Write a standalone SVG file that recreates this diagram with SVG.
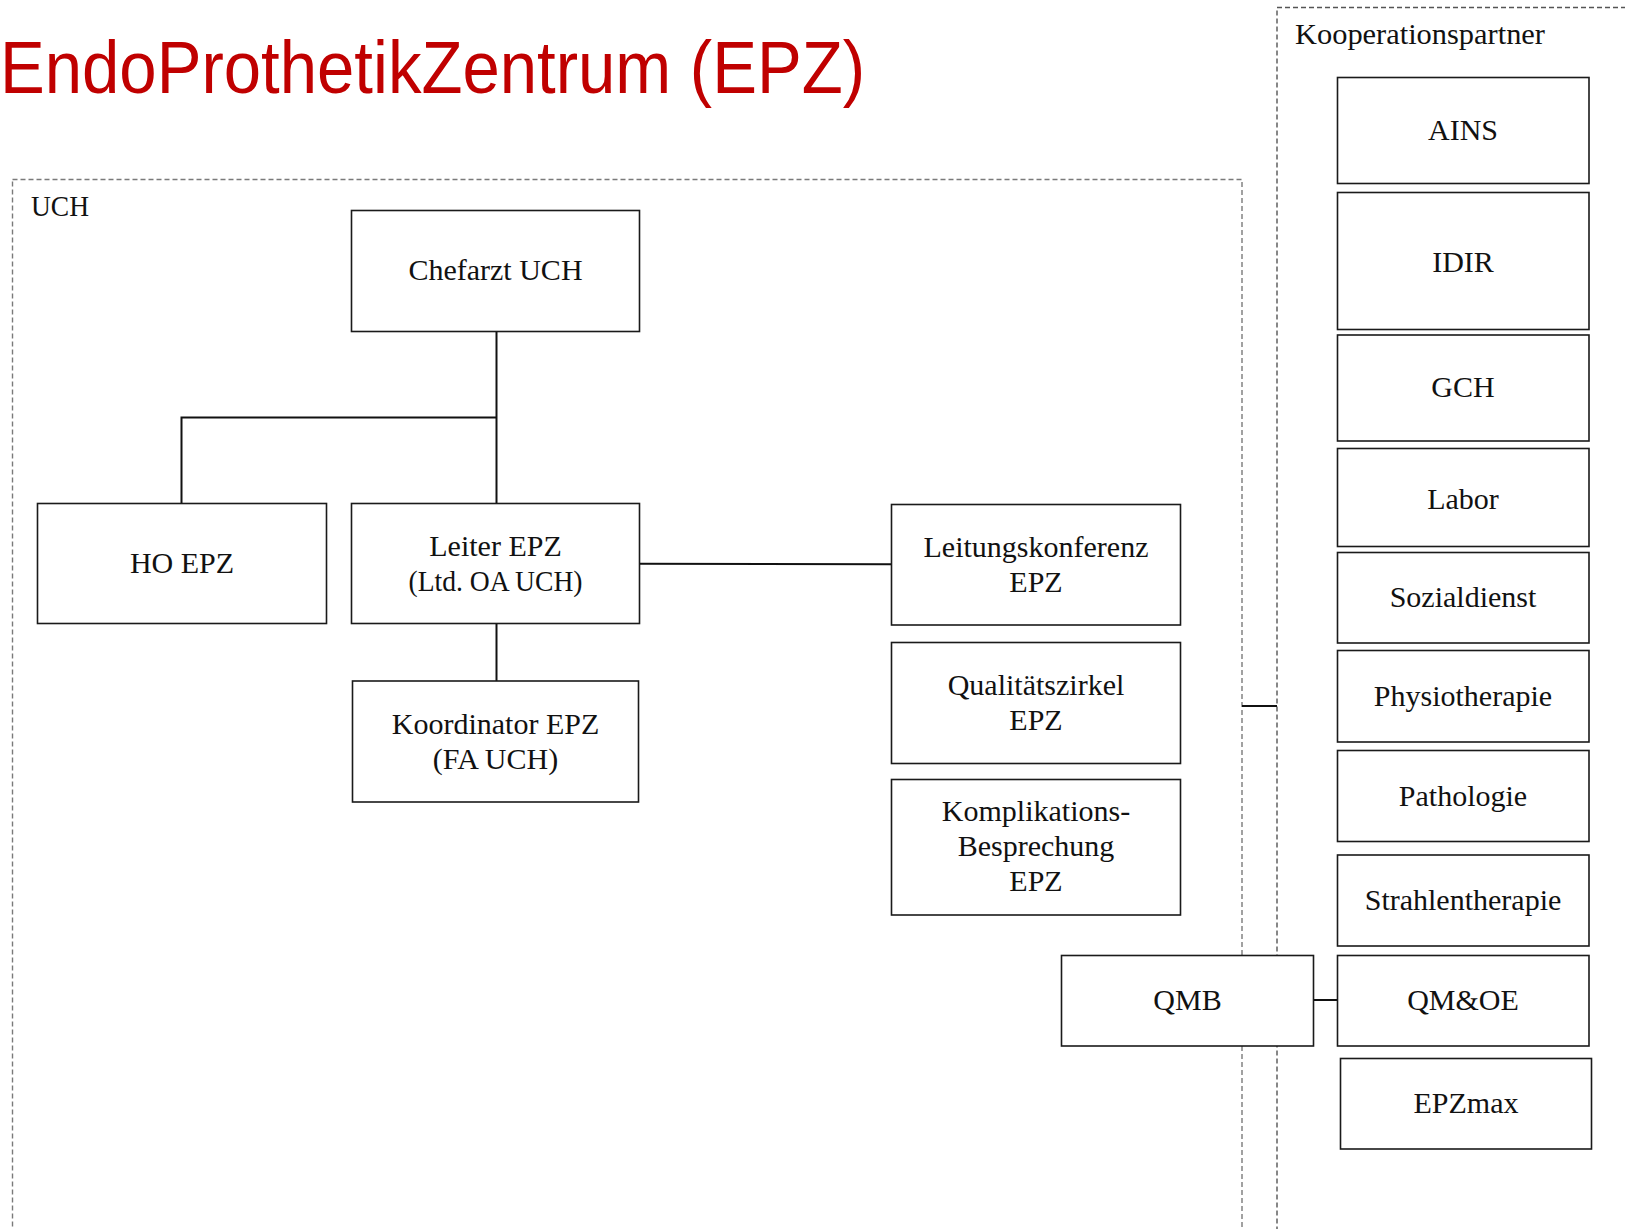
<svg xmlns="http://www.w3.org/2000/svg" width="1625" height="1229" viewBox="0 0 1625 1229">
<style>
.box{fill:#fff;stroke:#1a1a1a;stroke-width:1.6}
.lbl{font-family:"Liberation Serif","Times New Roman",serif;font-size:30px;fill:#111;text-anchor:middle}
.hdr{font-family:"Liberation Serif","Times New Roman",serif;font-size:30px;fill:#111}
.dash{fill:none;stroke:#7a7a7a;stroke-width:1.4;stroke-dasharray:5 3}
.con{fill:none;stroke:#111;stroke-width:2}
</style>
<rect width="1625" height="1229" fill="#fff"/>
<text x="0" y="93" font-family="'Liberation Sans',Arial,sans-serif" font-size="75" fill="#c00000" textLength="865" lengthAdjust="spacingAndGlyphs">EndoProthetikZentrum (EPZ)</text>

<g id="uch-group">
<rect class="dash" x="12.5" y="179.5" width="1229.5" height="1070"/>
<text class="hdr" x="31" y="216" textLength="58" lengthAdjust="spacingAndGlyphs">UCH</text>
</g>
<g id="koop-group">
<rect class="dash" x="1277" y="7.5" width="380" height="1240" style="stroke:#555"/>
<text class="hdr" x="1295" y="44" textLength="250" lengthAdjust="spacingAndGlyphs">Kooperationspartner</text>
</g>

<g id="connectors">
<line class="con" x1="496.5" y1="331.5" x2="496.5" y2="503.5"/>
<polyline class="con" points="181.5,503.5 181.5,417.5 496.5,417.5"/>
<line class="con" x1="496.5" y1="623.5" x2="496.5" y2="681"/>
<line class="con" x1="639.5" y1="563.7" x2="891.5" y2="564.3"/>
<line class="con" x1="1242" y1="706" x2="1277" y2="706"/>
<line class="con" x1="1313.5" y1="1000" x2="1337.5" y2="1000"/>
</g>

<g id="chefarzt">
<rect class="box" x="351.5" y="210.5" width="288" height="121"/>
<text class="lbl" x="495.5" y="280">Chefarzt UCH</text>
</g>
<g id="ho-epz">
<rect class="box" x="37.5" y="503.5" width="289" height="120"/>
<text class="lbl" x="182" y="573">HO EPZ</text>
</g>
<g id="leiter-epz">
<rect class="box" x="351.5" y="503.5" width="288" height="120"/>
<text class="lbl" x="495.5" y="556">Leiter EPZ</text>
<text class="lbl" x="495.5" y="591" textLength="174" lengthAdjust="spacingAndGlyphs">(Ltd. OA UCH)</text>
</g>
<g id="koordinator-epz">
<rect class="box" x="352.5" y="681" width="286" height="121"/>
<text class="lbl" x="495.5" y="734">Koordinator EPZ</text>
<text class="lbl" x="495.5" y="769">(FA UCH)</text>
</g>
<g id="leitungskonferenz">
<rect class="box" x="891.5" y="504.5" width="289" height="120.5"/>
<text class="lbl" x="1036" y="556.5">Leitungskonferenz</text>
<text class="lbl" x="1036" y="591.5">EPZ</text>
</g>
<g id="qualitaetszirkel">
<rect class="box" x="891.5" y="642.5" width="289" height="121"/>
<text class="lbl" x="1036" y="695">Qualitätszirkel</text>
<text class="lbl" x="1036" y="729.5">EPZ</text>
</g>
<g id="komplikationsbesprechung">
<rect class="box" x="891.5" y="779.5" width="289" height="135.5"/>
<text class="lbl" x="1036" y="820.5">Komplikations-</text>
<text class="lbl" x="1036" y="856">Besprechung</text>
<text class="lbl" x="1036" y="891">EPZ</text>
</g>
<g id="qmb">
<rect class="box" x="1061.5" y="955.5" width="252" height="90.5"/>
<text class="lbl" x="1187.5" y="1009.5">QMB</text>
</g>

<g id="ains">
<rect class="box" x="1337.5" y="77.5" width="251.5" height="106"/>
<text class="lbl" x="1463" y="140">AINS</text>
</g>
<g id="idir">
<rect class="box" x="1337.5" y="192.5" width="251.5" height="137"/>
<text class="lbl" x="1463" y="271.5">IDIR</text>
</g>
<g id="gch">
<rect class="box" x="1337.5" y="335" width="251.5" height="106"/>
<text class="lbl" x="1463" y="397">GCH</text>
</g>
<g id="labor">
<rect class="box" x="1337.5" y="448.5" width="251.5" height="98"/>
<text class="lbl" x="1463" y="508.5">Labor</text>
</g>
<g id="sozialdienst">
<rect class="box" x="1337.5" y="552.5" width="251.5" height="90.5"/>
<text class="lbl" x="1463" y="607">Sozialdienst</text>
</g>
<g id="physiotherapie">
<rect class="box" x="1337.5" y="650.5" width="251.5" height="91.5"/>
<text class="lbl" x="1463" y="706">Physiotherapie</text>
</g>
<g id="pathologie">
<rect class="box" x="1337.5" y="750.5" width="251.5" height="91"/>
<text class="lbl" x="1463" y="806">Pathologie</text>
</g>
<g id="strahlentherapie">
<rect class="box" x="1337.5" y="855" width="251.5" height="91"/>
<text class="lbl" x="1463" y="910">Strahlentherapie</text>
</g>
<g id="qm-oe">
<rect class="box" x="1337.5" y="955.5" width="251.5" height="90.5"/>
<text class="lbl" x="1463" y="1009.5">QM&amp;OE</text>
</g>
<g id="epzmax">
<rect class="box" x="1340.5" y="1058.5" width="251" height="90.5"/>
<text class="lbl" x="1466" y="1112.5">EPZmax</text>
</g>
</svg>
